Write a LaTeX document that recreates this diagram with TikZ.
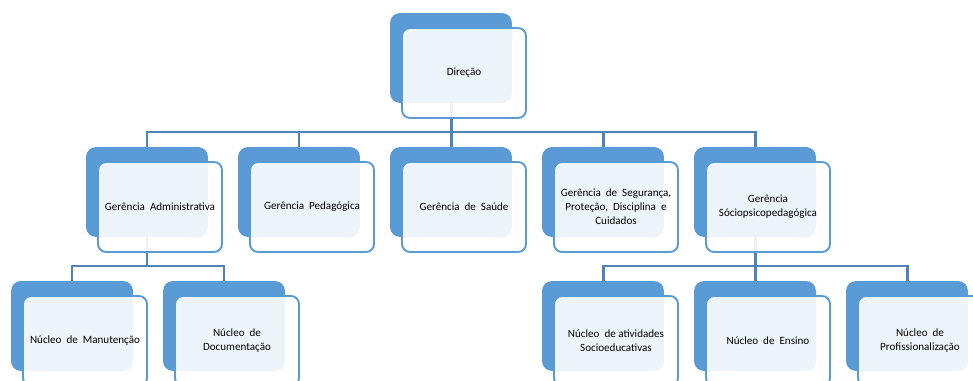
\documentclass[tikz,border=0pt]{standalone}
\usepackage{fontspec}
\setmainfont{Carlito}
\usetikzlibrary{backgrounds}

\definecolor{orgblue}{HTML}{5B9BD5}
\definecolor{linkblue}{HTML}{5083BC}

\tikzset{
  backbox/.style={fill=orgblue, rounded corners=0.2cm, minimum width=2.44cm,
    minimum height=1.8cm, inner sep=0pt},
  frontbox/.style={draw=orgblue, line width=1.1pt, fill=white, fill opacity=0.9,
    text opacity=1, rounded corners=0.16cm, minimum width=2.48cm,
    minimum height=1.8cm, inner sep=0pt, align=center,
    font=\fontsize{6.3}{8}\selectfont},
  link/.style={draw=linkblue, line width=1.7pt},
}

\begin{document}
\begin{tikzpicture}[x=0.02cm, y=-0.02cm]
  \useasboundingbox (0,0) rectangle (973,381);
  \clip (0,0) rectangle (973,381);
  % direction
  \node[backbox] (dirB) at (451,58) {};
  \node[frontbox] (dir) at (464,73) {Direção};
  % managements
  \node[backbox] (admB) at (147,192) {};
  \node[frontbox] (adm) at (160,207) {Gerência\ \ Administrativa};
  \node[backbox] (pedB) at (299,192) {};
  \node[frontbox] (ped) at (312,207) {Gerência\ \ Pedagógica};
  \node[backbox] (saudeB) at (451,192) {};
  \node[frontbox] (saude) at (464,207) {Gerência\ \ de\ \ Saúde};
  \node[backbox] (segB) at (603,192) {};
  \node[frontbox] (seg) at (616,207) {Gerência\ \ de\ \ Segurança,\\Proteção,\ \ Disciplina\ \ e\\Cuidados};
  \node[backbox] (socB) at (755,192) {};
  \node[frontbox] (soc) at (768,207) {Gerência\\Sóciopsicopedagógica};
  % cores
  \node[backbox] (manB) at (72,326) {};
  \node[frontbox] (man) at (85,341) {Núcleo\ \ de\ \ Manutenção};
  \node[backbox] (docB) at (224,326) {};
  \node[frontbox] (doc) at (237,341) {Núcleo\ \ de\\Documentação};
  \node[backbox] (atvB) at (603,326) {};
  \node[frontbox] (atv) at (616,341) {Núcleo\ \ de\ atividades\\Socioeducativas};
  \node[backbox] (ensB) at (755,326) {};
  \node[frontbox] (ens) at (768,341) {Núcleo\ \ de\ \ Ensino};
  \node[backbox] (proB) at (907,326) {};
  \node[frontbox] (pro) at (920,341) {Núcleo\ \ de\\Profissionalização};
  % connectors
  \begin{scope}[on background layer]
    \coordinate (busA) at (451,132);
    \coordinate (busB) at (147,266);
    \coordinate (busC) at (755,266);
    \draw[link] (dirB.south) -- (busA);
    \foreach \n in {admB,pedB,saudeB,segB,socB}
      \draw[link] (busA) -| (\n.north);
    \draw[link] (admB.south) -- (busB);
    \foreach \n in {manB,docB}
      \draw[link] (busB) -| (\n.north);
    \draw[link] (socB.south) -- (busC);
    \foreach \n in {atvB,ensB,proB}
      \draw[link] (busC) -| (\n.north);
  \end{scope}
\end{tikzpicture}
\end{document}
